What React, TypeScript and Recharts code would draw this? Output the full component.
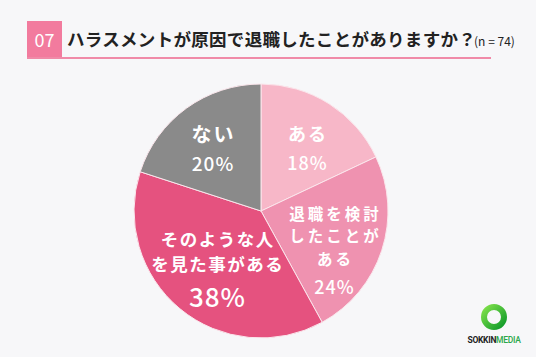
import { PieChart, Pie, Cell } from "recharts";

const categories = ["ある", "退職を検討したことがある", "そのような人を見た事がある", "ない"];
const labelLines = [["ある"], ["退職を検討", "したことが", "ある"], ["そのような人", "を見た事がある"], ["ない"]];
const values = [18, 24, 38, 20];
const colors = ["#f7b7c8", "#ef92b0", "#e5527f", "#8a8a8a"];

const data = categories.map((name, i) => ({ name, value: values[i] }));

// per-slice label layout (radius factor, angle tweak, font sizes, spacing)
const labelStyle = [
  { r: 0.617, dAng: 3.5, fs: 18, ls: 2, pfs: 18, gap: 22, pgap: 29 },
  { r: 0.648, dAng: 9.5, fs: 15.5, ls: 3, pfs: 18, gap: 22.5, pgap: 28 },
  { r: 0.558, dAng: -1.2, fs: 17.5, ls: 1.5, pfs: 26, gap: 25, pgap: 32 },
  { r: 0.629, dAng: -1.4, fs: 20, ls: 2, pfs: 19, gap: 22, pgap: 29 },
];

const RADIAN = Math.PI / 180;

const renderLabel = (props: any) => {
  const { cx, cy, midAngle, outerRadius, index } = props;
  const st = labelStyle[index];
  const ang = (midAngle - st.dAng) * RADIAN;
  const x = cx + outerRadius * st.r * Math.cos(ang);
  const y = cy - outerRadius * st.r * Math.sin(ang);
  const lines = labelLines[index];
  const total = (lines.length - 1) * st.gap + st.pgap;
  const top = y - total / 2;
  return (
    <text
      x={x}
      y={top}
      fill="#ffffff"
      textAnchor="middle"
      dominantBaseline="central"
      style={{ fontFamily: "'Noto Sans CJK JP', sans-serif", fontWeight: 700 }}
    >
      {lines.map((l, i) => (
        <tspan key={i} x={x + st.ls / 2} y={top + i * st.gap} fontSize={st.fs} letterSpacing={st.ls}>
          {l}
        </tspan>
      ))}
      <tspan
        x={x + 0.5}
        y={top + (lines.length - 1) * st.gap + st.pgap}
        fontSize={st.pfs}
        fontWeight={500}
        letterSpacing={1}
      >
        {values[index]}%
      </tspan>
    </text>
  );
};

export default function App() {
  return (
    <div
      style={{
        position: "absolute",
        left: 0,
        top: 0,
        width: 536,
        height: 357,
        background: "#f7f7f9",
        fontFamily: "'Noto Sans CJK JP', sans-serif",
        overflow: "hidden",
      }}
    >
      <div
        style={{
          position: "absolute",
          left: 27,
          top: 21,
          width: 35,
          height: 36,
          background: "#f27b9e",
          color: "#fff",
          fontSize: 18,
          lineHeight: "36px",
          textAlign: "center",
        }}
      >
        07
      </div>
      <div
        style={{
          position: "absolute",
          left: 67,
          top: 21,
          height: 36,
          lineHeight: "36px",
          fontSize: 17.5,
          letterSpacing: 0.3,
          fontWeight: 700,
          color: "#222",
          whiteSpace: "nowrap",
        }}
      >
        ハラスメントが原因で退職したことがありますか？
        <span style={{ fontSize: 12, fontWeight: 400, marginLeft: -2, letterSpacing: 0 }}>(n = 74)</span>
      </div>
      <div
        style={{
          position: "absolute",
          left: 27,
          top: 57,
          width: 464,
          height: 1.5,
          background: "#f08aa8",
        }}
      />
      <div style={{ position: "absolute", left: 0, top: 0 }}>
        <PieChart width={536} height={357} margin={{ top: 0, right: 0, bottom: 0, left: 0 }}>
          <Pie
            data={data}
            dataKey="value"
            nameKey="name"
            cx={261}
            cy={211}
            outerRadius={127}
            startAngle={90}
            endAngle={-270}
            stroke="#fbe6ec"
            strokeWidth={1}
            label={renderLabel}
            labelLine={false}
            isAnimationActive={false}
          >
            {data.map((d, i) => (
              <Cell key={d.name} fill={colors[i]} />
            ))}
          </Pie>
        </PieChart>
      </div>
      <svg style={{ position: "absolute", left: 460, top: 298 }} width={70} height={50}>
        <defs>
          <linearGradient id="ring" x1="0" y1="0" x2="1" y2="1">
            <stop offset="0%" stopColor="#7fe04a" />
            <stop offset="100%" stopColor="#0f9a2a" />
          </linearGradient>
        </defs>
        <circle cx={34} cy={19} r={10} fill="none" stroke="url(#ring)" strokeWidth={6} />
        <text x={34} y={45} textAnchor="middle" fontSize={8.5} fontWeight={700} fontFamily="Roboto, sans-serif" letterSpacing={-0.3}>
          <tspan fill="#222">SOKKIN</tspan>
          <tspan fill="#2aa84a" fontWeight={500}>MEDIA</tspan>
        </text>
      </svg>
    </div>
  );
}
